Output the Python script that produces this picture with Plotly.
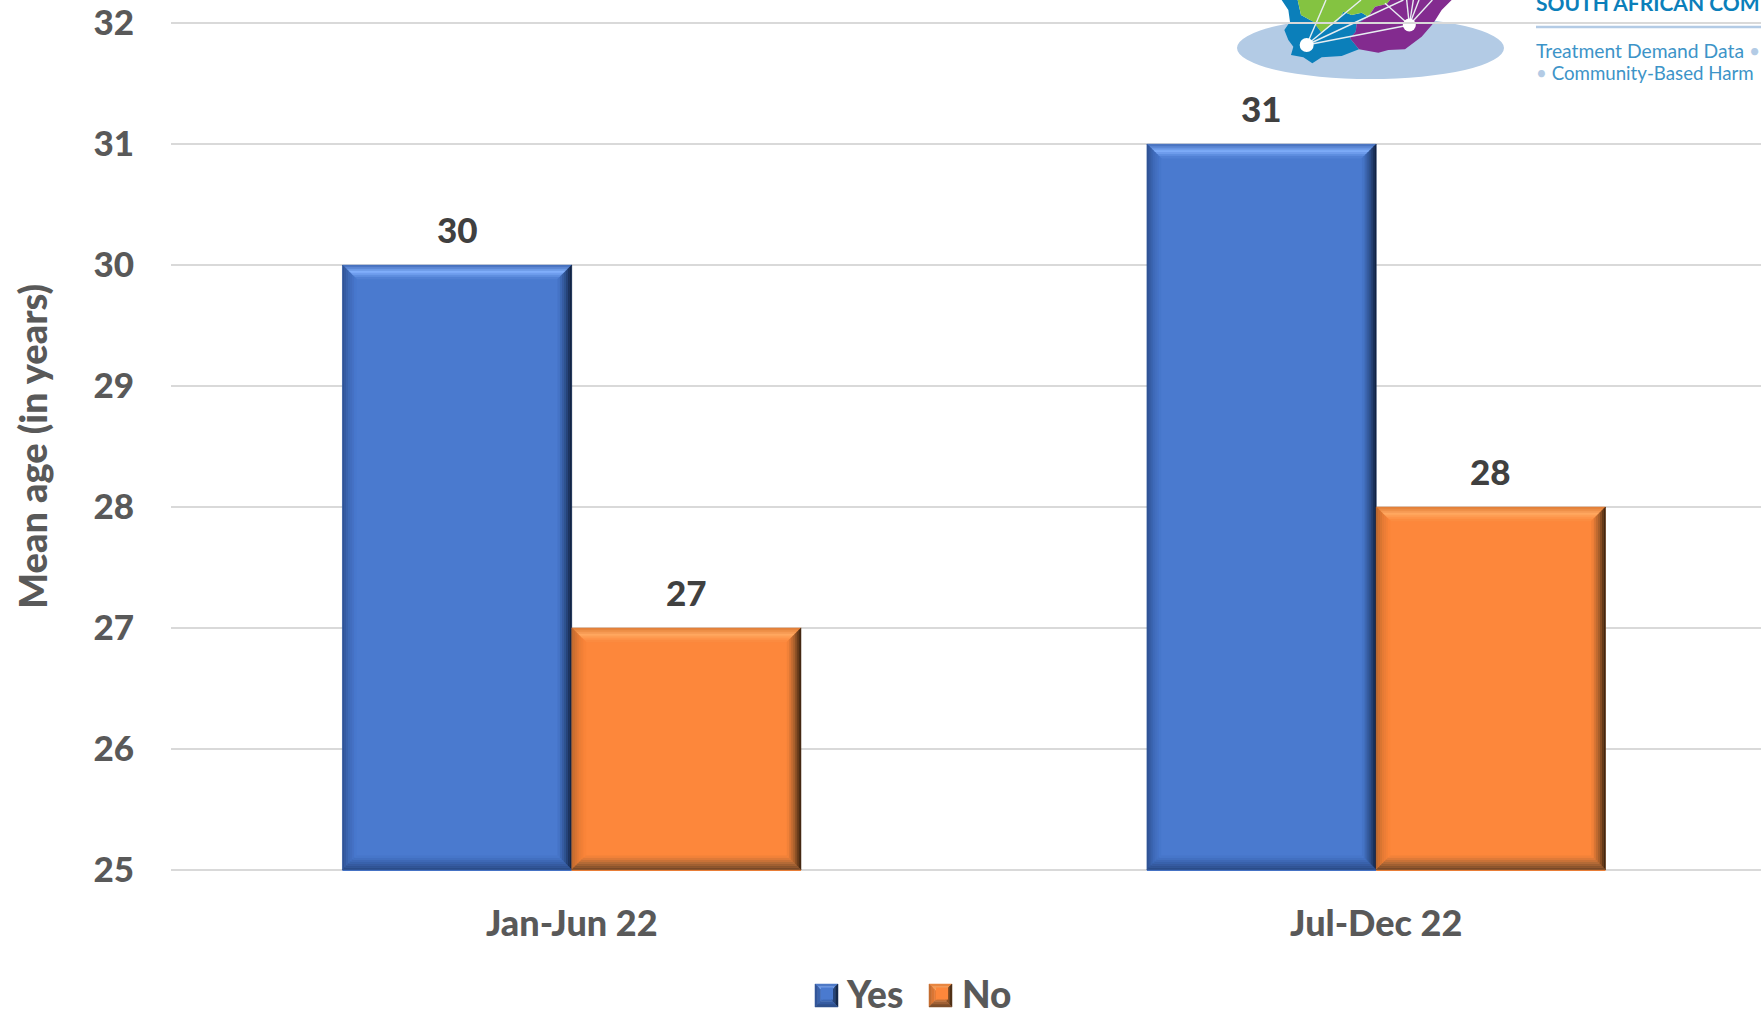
import plotly.graph_objects as go

periods = ["Jan-Jun 22", "Jul-Dec 22"]
yes_ages = [30, 31]
no_ages = [27, 28]
series_names = ["Yes", "No"]
y_ticks = [25, 26, 27, 28, 29, 30, 31, 32]

W, H = 1761, 1013
L, R, T, B = 171, 0, 22, 142
PW, PH = W - L - R, H - T - B
X_RANGE = [-0.4981, 1.4783]
Y_RANGE = [24.99, 32.01]
BAR_W = 0.285
FONT = "Lato"
WEIGHT = 900
TICK = "#595959"
LABEL = "#404040"
BLUE = "#4a7acf"
ORANGE = "#fd873b"


def px(x):
    return (x - L) / PW


def py(y):
    return (H - B - y) / PH


def mix(a, b, t):
    ca = [int(a[i:i + 2], 16) for i in (1, 3, 5)]
    cb = [int(b[i:i + 2], 16) for i in (1, 3, 5)]
    return "#%02x%02x%02x" % tuple(round(u + (v - u) * t) for u, v in zip(ca, cb))


# edge colour stops: outer edge, middle, inner edge
BEVELS = {
    BLUE: dict(top=["#3f68b5", "#80aefa", BLUE], right=["#0e1c36", "#2f528f", BLUE],
               left=["#2f5090", "#3f6ab8", BLUE], bottom=["#2b4a82", "#3a62ab", BLUE]),
    ORANGE: dict(top=["#e07a35", "#ffa860", ORANGE], right=["#33200f", "#a8602c", ORANGE],
                 left=["#b9692f", "#e57a35", ORANGE], bottom=["#6e4526", "#b06a38", ORANGE]),
}


def stop_colour(stops, t):
    if t < 0.5:
        return mix(stops[0], stops[1], t * 2)
    return mix(stops[1], stops[2], t * 2 - 1)


def bevel_shapes(x0, x1, y0, y1, colour, sx, sy, depth=14, n=7, xref="x", yref="y"):
    """Mitred gradient strips; sx, sy = pixel size in the reference frame's units."""
    out = []
    for edge, stops in BEVELS[colour].items():
        for k in range(n):
            a, b = depth * k / n, depth * (k + 1) / n
            dxa, dxb, dya, dyb = a * sx, b * sx, a * sy, b * sy
            if edge == "top":
                pts = [(x0 + dxa, y1 - dya), (x1 - dxa, y1 - dya), (x1 - dxb, y1 - dyb), (x0 + dxb, y1 - dyb)]
            elif edge == "bottom":
                pts = [(x0 + dxa, y0 + dya), (x1 - dxa, y0 + dya), (x1 - dxb, y0 + dyb), (x0 + dxb, y0 + dyb)]
            elif edge == "left":
                pts = [(x0 + dxa, y0 + dya), (x0 + dxa, y1 - dya), (x0 + dxb, y1 - dyb), (x0 + dxb, y0 + dyb)]
            else:
                pts = [(x1 - dxa, y0 + dya), (x1 - dxa, y1 - dya), (x1 - dxb, y1 - dyb), (x1 - dxb, y0 + dyb)]
            path = "M" + " L".join(f"{p:.5f},{q:.5f}" for p, q in pts) + " Z"
            c = stop_colour(stops, (k + 0.5) / n)
            out.append(dict(type="path", path=path, xref=xref, yref=yref, fillcolor=c,
                            line=dict(width=0.5, color=c), layer="above"))
    return out


fig = go.Figure()
for name, vals, col in zip(series_names, [yes_ages, no_ages], [BLUE, ORANGE]):
    fig.add_bar(name=name, x=periods, y=vals, marker=dict(color=col, line=dict(width=0)))

shapes = []
annotations = []
sx = (X_RANGE[1] - X_RANGE[0]) / PW
sy = (Y_RANGE[1] - Y_RANGE[0]) / PH
for s, (vals, col) in enumerate([(yes_ages, BLUE), (no_ages, ORANGE)]):
    for i, v in enumerate(vals):
        x0 = i - BAR_W + s * BAR_W
        shapes += bevel_shapes(x0, x0 + BAR_W, 25, v, col, sx, sy)
        annotations.append(dict(x=x0 + BAR_W / 2, y=v, xref="x", yref="y", text=str(v),
                                showarrow=False, yanchor="bottom", yshift=13,
                                font=dict(family=FONT, size=35, color=LABEL, weight=WEIGHT)))

# legend swatches behind the legend's own keys
for x0, col in [(815, BLUE), (929, ORANGE)]:
    shapes += bevel_shapes(px(x0), px(x0 + 23), py(1007), py(984), col, 1 / PW, 1 / PH,
                           depth=11.5, n=4, xref="paper", yref="paper")


# logo: positions in page pixels, drawn beneath the grid
def logo_poly(points, colour):
    path = "M" + " L".join(f"{px(1225 + a / 3):.5f},{py(b / 3):.5f}" for a, b in points) + " Z"
    return dict(type="path", path=path, xref="paper", yref="paper", fillcolor=colour,
                line=dict(width=0), layer="below")


def logo_line(a, b, c, d):
    path = f"M{px(1225 + a / 3):.5f},{py(b / 3):.5f} L{px(1225 + c / 3):.5f},{py(d / 3):.5f}"
    return dict(type="path", path=path, xref="paper", yref="paper",
                line=dict(width=1.4, color="#e8eef2"), layer="below")


def logo_dot(a, b, r):
    x, y = 1225 + a / 3, b / 3
    return dict(type="circle", xref="paper", yref="paper", x0=px(x - r), x1=px(x + r),
                y0=py(y + r), y1=py(y - r), fillcolor="white", line=dict(width=0), layer="below")


shapes.append(dict(type="circle", xref="paper", yref="paper", x0=px(1237), x1=px(1504),
                   y0=py(79), y1=py(17), fillcolor="#b3cbe5", line=dict(width=0), layer="below"))
shapes.append(logo_poly([(170, 0), (218, 0), (228, 45), (265, 65), (290, 98), (340, 60), (355, 35), (380, 45),
                         (410, 38), (430, 50), (395, 72), (392, 95), (375, 115), (402, 148), (350, 168),
                         (290, 172), (262, 190), (235, 172), (198, 165), (205, 140), (190, 120), (178, 90),
                         (195, 65), (190, 30)], "#0b7fba"))
shapes.append(logo_poly([(218, 0), (228, 45), (265, 65), (290, 98), (340, 60), (355, 35), (380, 45), (410, 38),
                         (430, 50), (450, 20), (485, 12), (495, 0)], "#84c341"))
shapes.append(logo_poly([(495, 0), (485, 12), (450, 20), (430, 50), (395, 72), (392, 95), (375, 115), (402, 148),
                         (460, 158), (490, 150), (540, 148), (590, 110), (625, 70), (650, 30), (680, 0)], "#832b8f"))
for seg in [(245, 135, 303, 0), (245, 135, 408, 0), (245, 135, 535, 0), (245, 135, 553, 75),
            (553, 75, 480, 10), (553, 75, 545, 0), (553, 75, 565, 0), (553, 75, 582, 0), (553, 75, 622, 0)]:
    shapes.append(logo_line(*seg))
shapes.append(logo_dot(245, 135, 7))
shapes.append(logo_dot(553, 75, 6.5))
shapes.append(dict(type="line", xref="paper", yref="paper", x0=px(1536), x1=px(1761), y0=py(27), y1=py(27),
                   line=dict(width=2.5, color="#b3cbe5"), layer="below"))

for text, x, y, size, col in [
    ("<b>SOUTH AFRICAN COM</b>", 1534, 2, 21, "#0b7fba"),
    ("Treatment Demand Data <span style='color:#b3cbe5'>•</span>", 1534, 50, 19.3, "#3d94c8"),
    ("<span style='color:#b3cbe5'>•</span> Community-Based Harm", 1534, 73, 18.7, "#3d94c8"),
]:
    annotations.append(dict(x=px(x), y=py(y), xref="paper", yref="paper", text=text, showarrow=False,
                            xanchor="left", yanchor="middle", align="left",
                            font=dict(family=FONT, size=size, color=col)))

fig.update_layout(
    width=W, height=H, autosize=False,
    margin=dict(l=L, r=R, t=T, b=B, pad=0),
    paper_bgcolor="white", plot_bgcolor="white",
    barmode="group", bargap=1 - 2 * BAR_W, bargroupgap=0,
    font=dict(family=FONT, color=TICK),
    shapes=shapes, annotations=annotations,
    showlegend=True,
    legend=dict(orientation="h", xref="container", yref="container", x=807 / W, y=1 - 994 / H,
                xanchor="left", yanchor="middle",
                bgcolor="rgba(0,0,0,0)", font=dict(family=FONT, size=37, color=TICK, weight=WEIGHT),
                entrywidth=70, entrywidthmode="pixels", itemclick=False, itemdoubleclick=False),
    xaxis=dict(range=X_RANGE, showgrid=False, zeroline=False, showline=False, ticks="outside",
               ticklen=21, tickcolor="rgba(0,0,0,0)",
               tickfont=dict(family=FONT, size=36, color=TICK, weight=WEIGHT)),
    yaxis=dict(range=Y_RANGE, tickvals=y_ticks, showgrid=True, gridcolor="#d9d9d9", gridwidth=2, zeroline=False,
               showline=False, ticks="outside", ticklen=29, tickcolor="rgba(0,0,0,0)",
               tickfont=dict(family=FONT, size=35, color=TICK, weight=WEIGHT),
               title=dict(text="Mean age (in years)", standoff=34,
                          font=dict(family=FONT, size=38, color=TICK, weight=WEIGHT))),
)

fig.write_html("out.html", config=dict(displayModeBar=False),
               post_script="document.body.style.margin='0';document.documentElement.style.overflow='hidden';")
